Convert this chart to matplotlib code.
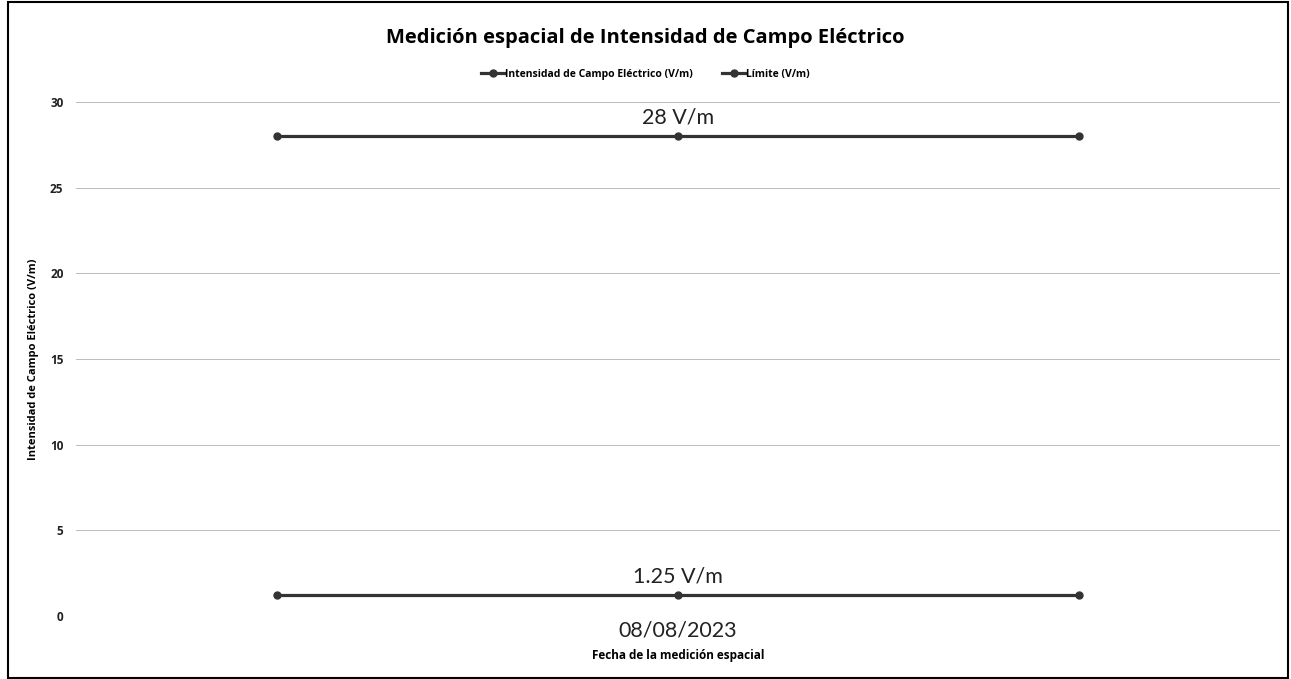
import numpy as np
import matplotlib.pyplot as plt
from matplotlib.patches import Rectangle

# datos
categorias = ["", "08/08/2023", ""]
intensidad = [1.25, 1.25, 1.25]
limite = [28, 28, 28]
etiquetas = ["1.25 V/m", "28 V/m"]

plt.rcParams['font.family'] = ['Open Sans', 'DejaVu Sans']

fig = plt.figure(figsize=(12.91, 6.79), dpi=100)
ax = fig.add_axes([76 / 1291, 63 / 679, 1204 / 1291, 514 / 679])

x = np.arange(len(categorias))
color = '#333333'
ax.plot(x, intensidad, color=color, lw=2.3, marker='o', ms=5, label='Intensidad de Campo Eléctrico (V/m)')
ax.plot(x, limite, color=color, lw=2.3, marker='o', ms=5, label='Límite (V/m)')

# etiquetas de datos en el punto central
ax.annotate(etiquetas[0], (1, intensidad[1]), xytext=(0, 6), textcoords='offset points',
            ha='center', va='bottom', fontsize=15.5, family='Lato', color='#222222')
ax.annotate(etiquetas[1], (1, limite[1]), xytext=(0, 6), textcoords='offset points',
            ha='center', va='bottom', fontsize=15.5, family='Lato', color='#222222')

ax.set_xlim(-0.5, 2.5)
ax.set_ylim(0, 30)
ax.set_yticks(range(0, 31, 5))
ax.set_xticks(x)
ax.set_xticklabels(categorias, fontsize=15.5, family='Lato', color='#222222')
ax.tick_params(axis='y', labelsize=8.5, length=0, pad=9, colors='#222222')
ax.tick_params(axis='x', length=0, pad=3)
for lbl in ax.get_yticklabels():
    lbl.set_fontweight('bold')
ax.grid(axis='y', color='#bbbbbb', lw=0.7)
ax.set_axisbelow(True)
for s in ax.spines.values():
    s.set_visible(False)

ax.set_xlabel('Fecha de la medición espacial', fontsize=8.5, fontweight='bold', labelpad=6)
ax.set_ylabel('Intensidad de Campo Eléctrico (V/m)', fontsize=8, fontweight='bold', labelpad=8)

fig.text(0.5, 1 - 38 / 679, 'Medición espacial de Intensidad de Campo Eléctrico',
         ha='center', va='center', fontsize=14.5, fontweight='bold')
fig.legend(loc='center', bbox_to_anchor=(0.5, 1 - 74 / 679), ncol=2, frameon=False,
           handlelength=2.2, handletextpad=0.1, columnspacing=2.8,
           prop={'weight': 'bold', 'size': 7.5})

# marco del grafico
fig.patches.append(Rectangle((8 / 1291, 1 / 679), 1280 / 1291, 676 / 679, transform=fig.transFigure,
                             fill=False, ec='black', lw=1.5))

fig.savefig('out.png', dpi=100)
